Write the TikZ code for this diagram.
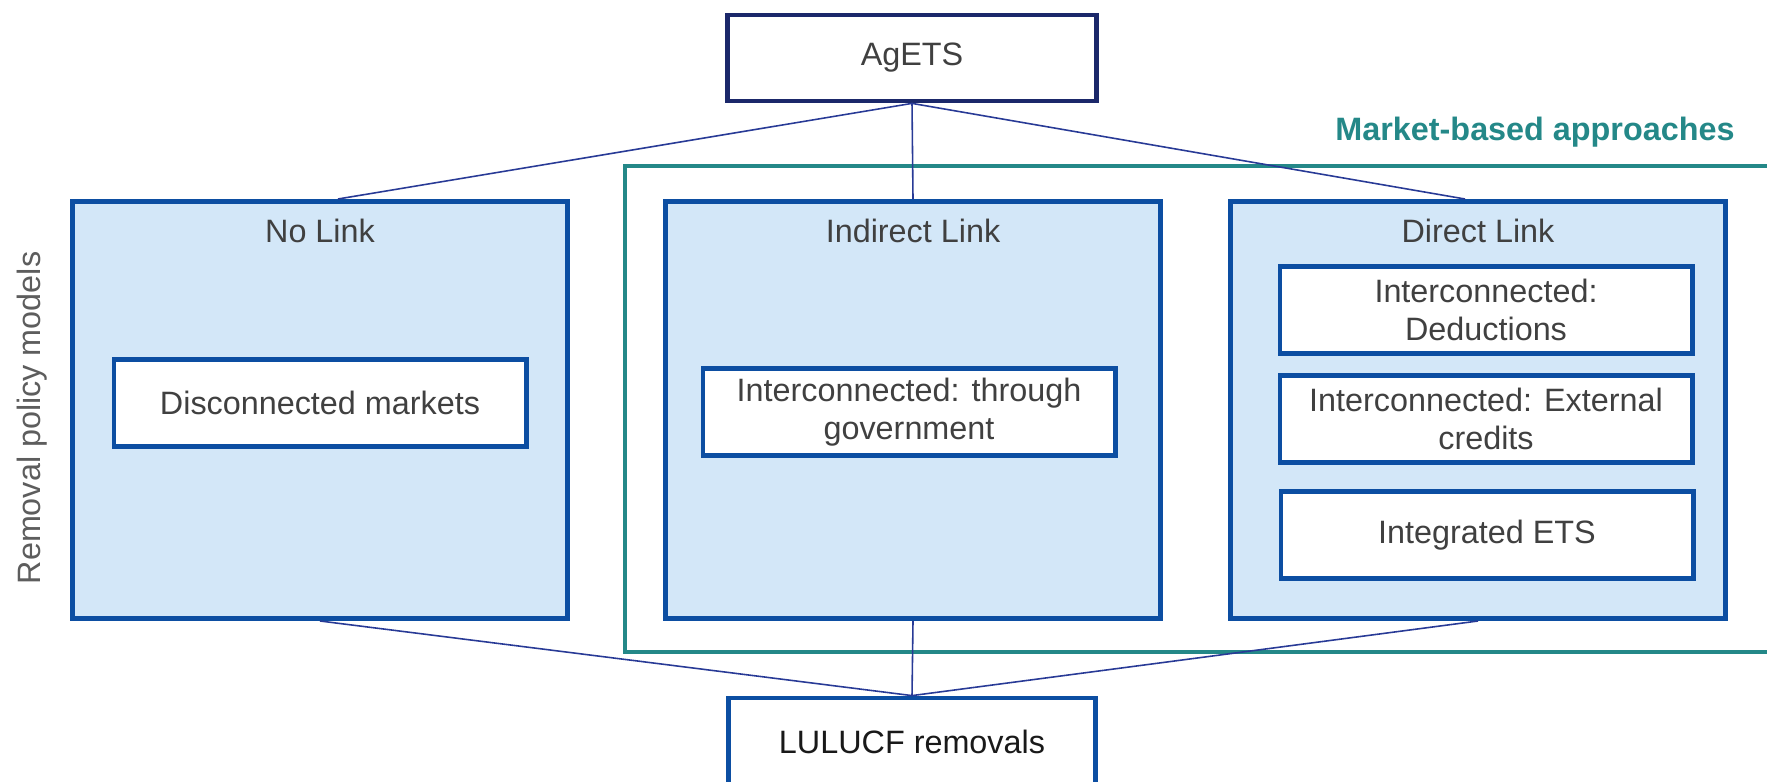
\documentclass[tikz,border=0pt]{standalone}
\usepackage{fontspec}
\setmainfont{Liberation Sans}
\usepackage{xcolor}
\definecolor{boxblue}{RGB}{12,78,162}
\definecolor{fillblue}{RGB}{211,231,248}
\definecolor{navy}{RGB}{27,40,106}
\definecolor{linkline}{RGB}{40,58,150}
\definecolor{mbteal}{RGB}{36,136,136}
\definecolor{textgray}{RGB}{64,64,64}

\begin{document}
\begin{tikzpicture}[x=0.01cm,y=-0.01cm,
  font=\fontsize{9.2pt}{10.8pt}\selectfont,
  model/.style={draw=boxblue,line width=1.35pt,fill=fillblue,minimum width=4.95cm,minimum height=4.17cm},
  option/.style={draw=boxblue,line width=1.35pt,fill=white,text=textgray,align=center,minimum width=4.12cm,minimum height=0.87cm,inner sep=1pt},
  title/.style={text=textgray,anchor=base},
  link/.style={draw=linkline,line width=0.45pt}]
\useasboundingbox (0,0) rectangle (1767,782);
\clip (0,0) rectangle (1767,782);
% market-based frame
\draw[mbteal,line width=1.2pt] (625,166) rectangle (1800,652);
\node[text=mbteal,font=\fontsize{9.2pt}{10.8pt}\selectfont\bfseries,anchor=base] (mba) at (1535,140) {Market-based approaches};

\node[draw=navy,line width=1.35pt,fill=white,text=textgray,minimum width=3.69cm,minimum height=0.86cm] (agets) at (912,58) {AgETS};
\node[draw=boxblue,line width=1.35pt,fill=white,text=black!90,minimum width=3.67cm,text height=0.25cm,text depth=0.5cm,inner ysep=0.3cm,anchor=base] (lulucf) at (912,753) {LULUCF removals};

\node[rotate=90,text=textgray!85] (axis) at (32,418) {Removal policy models};

% the three models
\node[model] (nolink) at (320,410) {};
\node[model] (indirect) at (913,410) {};
\node[model] (direct) at (1478,410) {};
\node[title] (nltitle) at (320,242) {No Link};
\node[title] (intitle) at (913,242) {Indirect Link};
\node[title] (dltitle) at (1478,242) {Direct Link};

\node[option] (disc) at (320,403) {Disconnected markets};
\node[option] (gov) at (909,412) {Interconnected: through\\government};
\node[option] (deduc) at (1486,310) {Interconnected:\\Deductions};
\node[option] (extern) at (1486,419) {Interconnected: External\\credits};
\node[option] (integ) at (1487,535) {Integrated ETS};

% connectors
\draw[link] (agets.south) -- ([xshift=0.18cm]nolink.north);
\draw[link] (agets.south) -- (indirect.north);
\draw[link] (agets.south) -- ([xshift=-0.13cm]direct.north);
\draw[link] (lulucf.north) -- (nolink.south);
\draw[link] (lulucf.north) -- (indirect.south);
\draw[link] (lulucf.north) -- (direct.south);
\end{tikzpicture}
\end{document}
